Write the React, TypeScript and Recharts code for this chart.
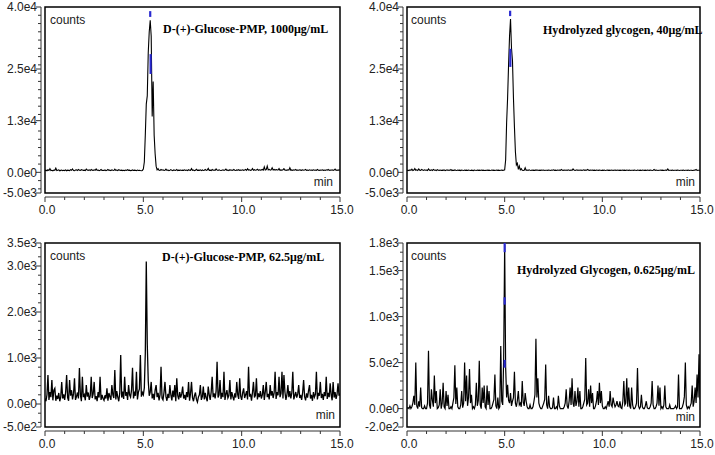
import React from 'react';
import { LineChart, Line, XAxis, YAxis, ReferenceArea } from 'recharts';

// sampling interval of every trace (min)
const STEP = 0.05;

// D-(+)-Glucose-PMP, 1000 µg/mL  (one row = one minute)
const glucose1000 = [
  400, 520, 380, 610, 450, 900, 420, 500, 350, 560, 480, 1000, 430, 520, 600, 380, 470, 550, 410, 500,
  430, 600, 380, 520, 470, 410, 650, 500, 820, 450, 380, 560, 610, 430, 700, 520, 480, 650, 560, 470,
  520, 430, 780, 560, 480, 600, 420, 700, 530, 450, 620, 500, 810, 470, 560, 420, 520, 680, 450, 500,
  460, 580, 420, 520, 700, 480, 540, 400, 620, 520, 450, 760, 480, 560, 420, 650, 500, 470, 540, 420,
  500, 420, 560, 450, 620, 480, 520, 400, 470, 580, 440, 520, 480, 400, 560, 450, 500, 430, 380, 460,
  800, 2500, 9000, 16500, 18500, 29000, 34000, 36800, 33000, 13500, 22000, 9000, 4500, 1500, 600, 900, 500, 450, 700, 520,
  600, 450, 520, 800, 480, 560, 420, 500, 650, 480, 400, 580, 520, 460, 700, 430, 520, 480, 560, 450,
  520, 480, 600, 450, 540, 420, 620, 500, 470, 900, 480, 560, 420, 520, 750, 460, 530, 480, 600, 420,
  580, 460, 520, 700, 480, 560, 950, 480, 520, 440, 680, 500, 560, 470, 820, 540, 460, 600, 500, 440,
  520, 600, 470, 560, 780, 480, 540, 430, 620, 500, 560, 480, 700, 520, 460, 580, 500, 640, 470, 540,
  500, 620, 480, 560, 700, 460, 850, 520, 600, 480, 560, 900, 500, 640, 520, 580, 760, 480, 620, 540,
  600, 700, 520, 1300, 560, 650, 1500, 580, 720, 540, 620, 1100, 560, 700, 520, 680, 600, 560, 900, 500,
  580, 520, 640, 900, 520, 560, 480, 620, 540, 1100, 500, 580, 460, 620, 520, 700, 480, 560, 520, 600,
  540, 480, 620, 500, 560, 700, 480, 540, 460, 600, 520, 560, 480, 620, 500, 540, 460, 700, 520, 480,
  560, 500, 620, 480, 540, 460, 600, 520, 700, 480, 560, 500, 620, 460, 540, 800, 500, 560, 480, 600,
  520,
];

// Hydrolyzed glycogen, 40 µg/mL
const glycogen40 = [
  450, 520, 400, 600, 480, 750, 420, 560, 900, 500, 620, 450, 800, 520, 480, 700, 560, 450, 620, 500,
  560, 450, 820, 520, 480, 600, 450, 700, 500, 560, 420, 650, 520, 480, 560, 440, 520, 480, 600, 420,
  520, 620, 450, 560, 480, 700, 420, 520, 460, 580, 500, 440, 560, 480, 520, 420, 560, 500, 460, 540,
  480, 520, 440, 560, 500, 460, 520, 480, 420, 560, 500, 460, 540, 480, 520, 450, 560, 480, 520, 460,
  500, 460, 540, 480, 520, 450, 500, 560, 480, 520, 460, 500, 540, 480, 520, 460, 500, 540, 480, 520,
  600, 3000, 12000, 18000, 26000, 33000, 37100, 30000, 27000, 18000, 11000, 5000, 1800, 2200, 700, 1500, 600, 900, 500, 450,
  520, 1100, 480, 560, 450, 600, 500, 460, 560, 480, 520, 460, 580, 500, 540, 460, 520, 480, 560, 500,
  540, 460, 520, 500, 480, 560, 520, 460, 540, 500, 600, 480, 520, 460, 560, 500, 540, 480, 700, 520,
  480, 560, 500, 540, 460, 600, 520, 480, 560, 500, 820, 540, 480, 520, 600, 460, 540, 500, 560, 480,
  520, 600, 480, 540, 500, 700, 520, 480, 560, 500, 540, 480, 520, 460, 560, 500, 480, 540, 500, 460,
  520, 480, 540, 460, 500, 560, 480, 520, 460, 540, 500, 480, 520, 560, 480, 500, 540, 460, 520, 480,
  500, 540, 480, 520, 460, 560, 500, 480, 540, 460, 520, 500, 480, 560, 500, 460, 540, 500, 480, 520,
  460, 540, 500, 480, 520, 460, 560, 500, 480, 540, 500, 460, 520, 700, 480, 540, 500, 460, 520, 500,
  540, 480, 520, 460, 500, 540, 480, 800, 460, 520, 500, 480, 540, 460, 520, 500, 480, 540, 500, 460,
  520, 500, 480, 540, 460, 500, 520, 480, 540, 460, 500, 520, 480, 460, 540, 500, 700, 480, 520, 500,
  520,
];

// D-(+)-Glucose-PMP, 62.5 µg/mL
const glucose62 = [
  120, 60, 200, 630, 90, 260, 150, 520, 80, 300, 340, 70, 180, 110, 240, 60, 150, 480, 120, 210,
  90, 260, 630, 140, 70, 520, 180, 300, 100, 220, 560, 90, 160, 250, 120, 780, 200, 60, 590, 150,
  200, 80, 410, 160, 250, 90, 180, 590, 130, 220, 480, 100, 170, 60, 260, 140, 590, 90, 200, 120,
  80, 190, 120, 340, 70, 240, 160, 90, 410, 200, 130, 740, 100, 280, 150, 60, 230, 1065, 140, 270,
  110, 590, 180, 260, 90, 410, 200, 150, 300, 790, 120, 240, 180, 700, 100, 260, 330, 1065, 160, 250,
  200, 350, 1100, 3100, 1300, 500, 180, 260, 480, 120, 220, 90, 300, 410, 150, 240, 80, 200, 810, 130,
  90, 250, 480, 160, 70, 220, 130, 410, 200, 80, 290, 150, 410, 60, 560, 180, 100, 260, 140, 220,
  380, 120, 200, 90, 260, 150, 480, 70, 230, 480, 140, 60, 180, 250, 100, 40, 150, 200, 410, 90,
  160, 380, 100, 240, 130, 60, 380, 200, 90, 260, 590, 150, 230, 120, 280, 920, 140, 200, 520, 110,
  240, 150, 700, 90, 210, 300, 130, 180, 520, 100, 260, 160, 80, 230, 140, 480, 200, 110, 560, 170,
  90, 240, 340, 130, 200, 280, 100, 810, 160, 220, 70, 250, 480, 140, 190, 560, 100, 230, 150, 280,
  120, 200, 410, 90, 260, 480, 150, 220, 100, 410, 180, 280, 130, 240, 700, 110, 260, 190, 590, 150,
  230, 700, 120, 630, 260, 90, 200, 410, 150, 280, 120, 240, 700, 100, 180, 260, 140, 220, 410, 130,
  200, 90, 250, 520, 160, 80, 230, 140, 290, 410, 120, 200, 70, 260, 150, 210, 700, 100, 240, 180,
  480, 130, 220, 90, 260, 170, 590, 110, 240, 150, 450, 200, 80, 480, 140, 260, 110, 210, 450, 180,
  230,
];

// Hydrolyzed Glycogen, 0.625 µg/mL
const glycogen0625 = [
  0, 10, 0, 30, 0, 20, 60, 140, 40, 500, 30, 0, 80, 20, 230, 10, 0, 0, 30, 0,
  0, 60, 630, 40, 0, 210, 90, 20, 360, 60, 190, 0, 10, 40, 210, 0, 60, 280, 20, 0,
  190, 30, 150, 0, 0, 20, 0, 60, 120, 470, 50, 230, 20, 0, 0, 40, 190, 10, 60, 500,
  80, 360, 30, 120, 430, 60, 150, 0, 20, 0, 40, 280, 30, 90, 520, 40, 0, 230, 60, 250,
  20, 0, 250, 40, 190, 0, 0, 20, 60, 100, 370, 30, 0, 120, 0, 20, 680, 80, 40, 560,
  1780, 450, 120, 260, 90, 60, 170, 30, 80, 120, 400, 60, 20, 90, 190, 40, 60, 20, 300, 70,
  30, 170, 80, 20, 0, 0, 40, 0, 0, 20, 80, 150, 760, 120, 330, 60, 20, 0, 0, 30,
  60, 100, 480, 40, 0, 140, 20, 0, 0, 10, 120, 0, 0, 20, 0, 140, 30, 0, 0, 0,
  0, 20, 60, 210, 30, 0, 80, 230, 40, 330, 60, 20, 190, 30, 80, 230, 20, 190, 0, 0,
  20, 60, 100, 550, 40, 60, 210, 20, 250, 60, 170, 0, 0, 30, 80, 190, 40, 280, 60, 190,
  30, 0, 0, 20, 0, 40, 80, 20, 190, 40, 20, 120, 60, 20, 40, 80, 30, 20, 80, 10,
  0, 80, 300, 40, 60, 330, 20, 230, 30, 0, 230, 40, 0, 0, 20, 60, 440, 30, 0, 20,
  150, 20, 0, 0, 30, 80, 10, 0, 0, 20, 60, 300, 40, 0, 0, 20, 60, 250, 30, 230,
  0, 20, 0, 40, 250, 20, 0, 0, 0, 40, 0, 0, 0, 0, 10, 30, 0, 20, 370, 0,
  0, 0, 20, 60, 130, 500, 40, 0, 20, 0, 30, 60, 250, 20, 80, 230, 60, 370, 120, 590,
  100,
];

// blue integration marks: [time, low, high]
const glucose1000Marks = [[5.35, 37600, 39000], [5.37, 23800, 28600]];
const glycogen40Marks = [[5.28, 37800, 39100], [5.29, 25500, 29900]];
const glycogen0625Marks = [[5.0, 1700, 1800], [5.0, 1130, 1210], [5.0, 445, 530]];

// axis labels
const xLabels = [0, 5, 10, 15];
const yLabelsTop = [-5000, 0, 12500, 25000, 40000];
const yLabelsGlucose62 = [-500, 0, 1000, 2000, 3000, 3500];
const yLabelsGlycogen0625 = [-200, 0, 500, 1000, 1500, 1800];

const GAP = 4;
const sans = '"Liberation Sans", Arial, sans-serif';
const serif = '"Liberation Serif", "Times New Roman", serif';

const fmtExp = (v: number) => {
  if (v === 0) return '0.0e0';
  const e = Math.floor(Math.log10(Math.abs(v)));
  return (v / Math.pow(10, e)).toFixed(1) + 'e' + e;
};

const XTick = (props: any) => {
  const { x, y, payload } = props;
  const major = xLabels.includes(payload.value);
  const ay = y + GAP;
  return (
    <g>
      <line x1={x} x2={x} y1={ay} y2={ay + (major ? 5 : 3)} stroke="#333" />
      {major && (
        <text x={x + 2} y={ay + 8} dy="0.71em" textAnchor="middle" fontSize={12} fontFamily={sans} fill="#222">
          {payload.value.toFixed(1)}
        </text>
      )}
    </g>
  );
};

const makeYTick = (labels: number[]) => (props: any) => {
  const { x, y, payload } = props;
  const major = labels.includes(payload.value);
  const ax = x - GAP;
  return (
    <g>
      <line x1={ax} x2={ax - (major ? 5 : 3)} y1={y} y2={y} stroke="#333" />
      {major && (
        <text x={ax - 4} y={y} dy="0.35em" textAnchor="end" fontSize={12} fontFamily={sans} fill="#222">
          {fmtExp(payload.value)}
        </text>
      )}
    </g>
  );
};

const minorTicks = (labels: number[], step: number) => {
  const lo = labels[0];
  const hi = labels[labels.length - 1];
  const out: number[] = [...labels];
  for (let v = Math.ceil(lo / step) * step; v <= hi; v += step) {
    if (labels.every((m) => Math.abs(m - v) >= step / 2)) out.push(v);
  }
  return out.sort((a, b) => a - b);
};

const xTicks = Array.from({ length: 16 }, (_, i) => i);

interface PanelProps {
  left: number;
  top: number;
  width: number;
  height: number;
  yWidth: number;
  mTop: number;
  mRight: number;
  xHeight: number;
  values: number[];
  marks: number[][];
  yLabels: number[];
  yStep: number;
  lineWidth: number;
}

function Panel({ left, top, width, height, yWidth, mTop, mRight, xHeight, values, marks, yLabels, yStep, lineWidth }: PanelProps) {
  const data = values.map((v, i) => ({ t: +(i * STEP).toFixed(2), v }));
  const lo = yLabels[0];
  const hi = yLabels[yLabels.length - 1];
  return (
    <div style={{ position: 'absolute', left, top }}>
      <LineChart width={width} height={height} data={data} margin={{ top: mTop, right: mRight, left: 0, bottom: 0 }}>
        <XAxis
          type="number"
          dataKey="t"
          domain={[0, 15]}
          allowDataOverflow
          ticks={xTicks}
          interval={0}
          height={xHeight}
          tickSize={0}
          tickMargin={0}
          tick={XTick}
          axisLine={{ stroke: '#333', transform: `translate(0,${GAP})` }}
        />
        <YAxis
          type="number"
          domain={[lo, hi]}
          allowDataOverflow
          ticks={minorTicks(yLabels, yStep)}
          interval={0}
          width={yWidth}
          tickSize={0}
          tickMargin={0}
          tick={makeYTick(yLabels)}
          axisLine={{ stroke: '#333', transform: `translate(-${GAP},0)` }}
        />
        <ReferenceArea x1={0} x2={15} y1={lo} y2={hi} fill="none" stroke="#000" strokeWidth={1.5} fillOpacity={0} />
        <Line type="linear" dataKey="v" stroke="#000" strokeWidth={lineWidth} dot={false} isAnimationActive={false} />
        {marks.map(([t, a, b], i) => (
          <Line
            key={i}
            data={[{ t, v: a }, { t, v: b }]}
            type="linear"
            dataKey="v"
            stroke="#2a2ad0"
            strokeWidth={2.2}
            dot={false}
            isAnimationActive={false}
          />
        ))}
      </LineChart>
    </div>
  );
}

const Txt = ({ x, y, children, bold, right }: any) => (
  <div
    style={{
      position: 'absolute',
      left: x,
      top: y,
      transform: `translate(${right ? '-100%' : '0'},-50%)`,
      fontFamily: bold ? serif : sans,
      fontWeight: bold ? 'bold' : 'normal',
      fontSize: bold ? 12 : 12,
      lineHeight: 1,
      whiteSpace: 'nowrap',
      color: bold ? '#000' : '#222',
    }}
  >
    {children}
  </div>
);

export default function App() {
  return (
    <div style={{ position: 'absolute', left: 0, top: 0, width: 715, height: 455, background: '#fff', overflow: 'hidden' }}>
      <Panel left={0} top={0} width={357} height={225} yWidth={45} mTop={7} mRight={17} xHeight={32}
        values={glucose1000} marks={glucose1000Marks} yLabels={yLabelsTop} yStep={2000} lineWidth={1.1} />
      <Panel left={357} top={0} width={358} height={225} yWidth={50} mTop={7} mRight={15} xHeight={32}
        values={glycogen40} marks={glycogen40Marks} yLabels={yLabelsTop} yStep={2000} lineWidth={1.1} />
      <Panel left={0} top={225} width={357} height={230} yWidth={45} mTop={18} mRight={17} xHeight={28}
        values={glucose62} marks={[]} yLabels={yLabelsGlucose62} yStep={200} lineWidth={1.3} />
      <Panel left={357} top={225} width={358} height={230} yWidth={50} mTop={18} mRight={15} xHeight={28}
        values={glycogen0625} marks={glycogen0625Marks} yLabels={yLabelsGlycogen0625} yStep={100} lineWidth={1.2} />

      <Txt x={50} y={20}>counts</Txt>
      <Txt x={411} y={20}>counts</Txt>
      <Txt x={50} y={256}>counts</Txt>
      <Txt x={411} y={256}>counts</Txt>

      <Txt x={333} y={182} right>min</Txt>
      <Txt x={695} y={182} right>min</Txt>
      <Txt x={335} y={415} right>min</Txt>
      <Txt x={695} y={417} right>min</Txt>

      <Txt x={163} y={29} bold>D-(+)-Glucose-PMP, 1000μg/mL</Txt>
      <Txt x={543} y={30} bold>Hydrolyzed glycogen, 40μg/mL</Txt>
      <Txt x={162} y={257} bold>D-(+)-Glucose-PMP, 62.5μg/mL</Txt>
      <Txt x={517} y={270} bold>Hydrolyzed Glycogen, 0.625μg/mL</Txt>
    </div>
  );
}
